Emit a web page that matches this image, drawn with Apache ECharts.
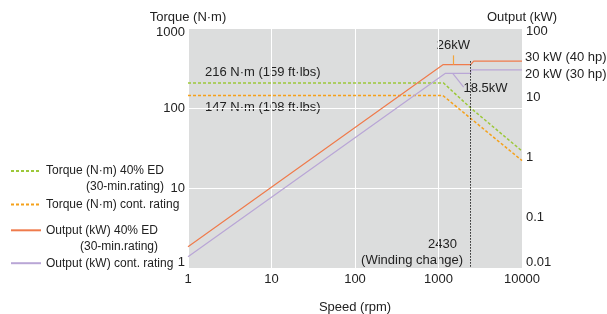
<!DOCTYPE html>
<html>
<head>
<meta charset="utf-8">
<script src="https://cdn.jsdelivr.net/npm/echarts@6/dist/echarts.min.js"></script>
<style>
  html, body { margin: 0; padding: 0; background: #fff; }
  #main { width: 607px; height: 314px; }
</style>
</head>
<body>
<div id="main"></div>
<script>
// speed (rpm) / torque (N·m) / output (kW)
var torqueEdSpeed = [1, 1150, 2430, 10000];
var torqueEdValue = [205, 205, 100, 29];
var torqueContSpeed = [1, 1130, 10000];
var torqueContValue = [143, 143, 22];
var outputEdSpeed = [1, 1130, 2430, 2640, 10000];
var outputEdValue = [0.0226, 24.5, 24.5, 28, 28];
var outputContSpeed = [1, 1200, 2430, 2430, 10000];
var outputContValue = [0.0154, 17.5, 17.5, 20, 20];
var windingChange = 2430;

var speedLabels = ['1', '10', '100', '1000', '10000'];
var torqueLabels = ['1', '10', '100', '1000'];
var outputLabels = ['0.01', '0.1', '1', '10', '100'];

var FONT = 'Liberation Sans, Arial, sans-serif';
var TXT = '#222';
var C_TED = '#9cc83a', C_TCONT = '#f5a11a', C_OED = '#ef7b4c', C_OCONT = '#b9a6d6';

function pairs(xs, ys) {
  var out = [];
  for (var i = 0; i < xs.length; i++) out.push([xs[i], ys[i]]);
  return out;
}
function exp10(v) { return Math.round(Math.log(v) / Math.LN10); }
function tok(pad) {
  return { fontSize: 13, fontFamily: FONT, color: TXT, padding: pad };
}

var chart = echarts.init(document.getElementById('main'), null, { renderer: 'canvas' });

function oneLegend(name, top, twoLine) {
  var ts = { color: TXT, fontSize: 12, fontFamily: FONT, lineHeight: 16 };
  if (twoLine) {
    ts.padding = [16, 0, 0, 0];
    ts.rich = {
      a: { fontSize: 12, fontFamily: FONT, color: TXT, lineHeight: 16 },
      b: { fontSize: 12, fontFamily: FONT, color: TXT, lineHeight: 16, align: 'right' }
    };
  }
  return {
    data: [name], orient: 'vertical', left: 10, top: top, padding: 0,
    itemWidth: 30, itemHeight: 14, selectedMode: false, textStyle: ts,
    itemStyle: { color: 'rgba(0,0,0,0)', opacity: 0, borderWidth: 0 },
    formatter: function (n) {
      if (!twoLine) return n;
      return '{a|' + n + '}\n{b|(30-min.rating)}';
    }
  };
}

function txt(x, y, s, align) {
  return { type: 'text', x: x, y: y, silent: true,
    style: { text: s, fill: TXT, fontSize: 13, fontFamily: FONT, align: align || 'left', verticalAlign: 'middle' } };
}

chart.setOption({
  animation: false,
  grid: { left: 188, right: 85, top: 28, bottom: 46, outerBoundsMode: 'none', containLabel: false,
    show: true, backgroundColor: '#dcdddd', borderWidth: 0 },
  legend: [
    oneLegend('Torque (N·m) 40% ED', 147, true),
    oneLegend('Torque (N·m) cont. rating', 196.5, false),
    oneLegend('Output (kW) 40% ED', 206.3, true),
    oneLegend('Output (kW) cont. rating', 255.2, false)
  ],
  xAxis: {
    type: 'log', logBase: 10, min: 1, max: 10000,
    name: 'Speed (rpm)', nameLocation: 'middle', nameGap: 33,
    nameTextStyle: { color: TXT, fontSize: 13, fontFamily: FONT },
    axisLine: { show: false }, axisTick: { show: false },
    axisLabel: { color: TXT, fontSize: 13, fontFamily: FONT, margin: 5,
      formatter: function (v) { return speedLabels[exp10(v)]; } },
    splitLine: { show: true, lineStyle: { color: '#fff', width: 1 } }
  },
  yAxis: [{
    type: 'log', logBase: 10, min: 1, max: 1000,
    name: 'Torque (N·m)', nameGap: 4,
    nameTextStyle: { color: TXT, fontSize: 13, fontFamily: FONT },
    axisLine: { show: false }, axisTick: { show: false },
    axisLabel: { color: TXT, fontSize: 13, fontFamily: FONT, margin: 3,
      formatter: function (v) {
        var e = exp10(v);
        if (e === 3) return '{hi|' + torqueLabels[e] + '}';
        if (e === 0) return '{lo|' + torqueLabels[e] + '}';
        return '{mid|' + torqueLabels[e] + '}';
      },
      rich: { hi: tok([8, 0, 0, 0]), mid: tok([1, 0, 0, 0]), lo: tok([0, 0, 12, 0]) } },
    splitLine: { show: true, lineStyle: { color: '#fff', width: 1 } }
  }, {
    type: 'log', logBase: 10, min: 0.01, max: 100, position: 'right',
    name: 'Output (kW)', nameGap: 4,
    nameTextStyle: { color: TXT, fontSize: 13, fontFamily: FONT },
    axisLine: { show: false }, axisTick: { show: false },
    axisLabel: { color: TXT, fontSize: 13, fontFamily: FONT, margin: 4,
      formatter: function (v) {
        var e = exp10(v);
        var s = outputLabels[e + 2];
        if (e === 2) return '{hi|' + s + '}';
        if (e === -2) return '{lo|' + s + '}';
        return '{mid|' + s + '}';
      },
      rich: { hi: tok([7, 0, 0, 0]), mid: tok([19, 0, 0, 0]), lo: tok([0, 0, 11, 0]) } },
    splitLine: { show: false }
  }],
  series: [{
    name: 'Torque (N·m) 40% ED', type: 'line', yAxisIndex: 0, symbol: 'none', z: 2,
    data: pairs(torqueEdSpeed, torqueEdValue),
    itemStyle: { color: C_TED },
    lineStyle: { color: C_TED, width: 1.5, type: [3, 2] }
  }, {
    name: 'Torque (N·m) cont. rating', type: 'line', yAxisIndex: 0, symbol: 'none', z: 2,
    data: pairs(torqueContSpeed, torqueContValue),
    itemStyle: { color: C_TCONT },
    lineStyle: { color: C_TCONT, width: 1.5, type: [3, 2] }
  }, {
    name: 'Output (kW) 40% ED', type: 'line', yAxisIndex: 1, symbol: 'none', z: 3,
    data: pairs(outputEdSpeed, outputEdValue),
    itemStyle: { color: C_OED },
    lineStyle: { color: C_OED, width: 1.2 },
    markLine: {
      silent: true, symbol: ['none', 'none'], label: { show: false },
      data: [
        [{ coord: [windingChange, 28], lineStyle: { color: '#222', width: 1, type: [1.5, 1.5] } },
         { coord: [windingChange, 0.01] }],
        [{ coord: [1490, 24.5], lineStyle: { color: '#f3a53c', width: 1.2, type: 'solid' } },
         { coord: [1490, 35] }]
      ]
    }
  }, {
    name: 'Output (kW) cont. rating', type: 'line', yAxisIndex: 1, symbol: 'none', z: 3,
    data: pairs(outputContSpeed, outputContValue),
    itemStyle: { color: C_OCONT },
    lineStyle: { color: C_OCONT, width: 1.2 },
    markLine: {
      silent: true, symbol: ['none', 'none'], label: { show: false },
      lineStyle: { color: C_OCONT, width: 1.2, type: 'solid' },
      data: [[{ coord: [1480, 17.5] }, { coord: [2000, 10.3] }]]
    }
  }],
  graphic: [
    txt(205, 72.3, '216 N·m (159 ft·lbs)'),
    txt(205, 107.3, '147 N·m (108 ft·lbs)'),
    txt(453.3, 45, '26kW', 'center'),
    txt(485.5, 88.3, '18.5kW', 'center'),
    txt(525, 57.3, '30 kW (40 hp)'),
    txt(525, 74.7, '20 kW (30 hp)'),
    txt(442.5, 244.3, '2430', 'center'),
    txt(463, 260, '(Winding change)', 'right')
  ]
});
</script>
</body>
</html>
